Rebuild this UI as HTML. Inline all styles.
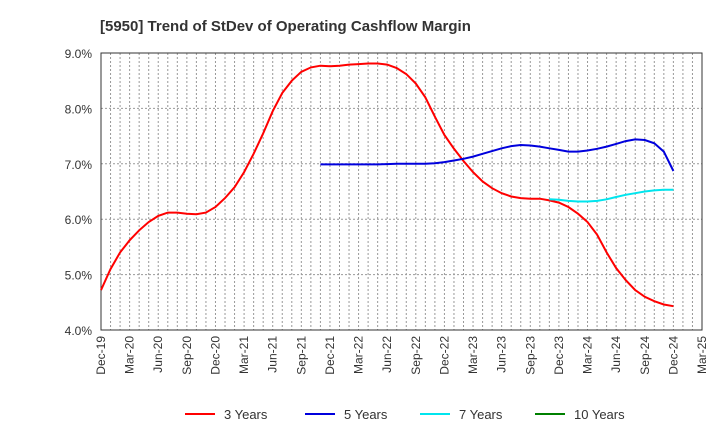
<!DOCTYPE html>
<html><head><meta charset="utf-8"><style>
body{margin:0;background:#fff;font-family:"Liberation Sans",sans-serif}
</style></head><body>
<svg id="c" width="720" height="440" xmlns="http://www.w3.org/2000/svg" font-family="Liberation Sans, sans-serif">
<text x="100" y="31" font-size="15" font-weight="bold" fill="#333">[5950]  Trend of StDev of Operating Cashflow Margin</text>
<g id="grid"></g><g id="axes"></g><g id="series"></g><g id="legend"></g>
</svg>
<script>
const xLabels=["Dec-19","Mar-20","Jun-20","Sep-20","Dec-20","Mar-21","Jun-21","Sep-21","Dec-21","Mar-22","Jun-22","Sep-22","Dec-22","Mar-23","Jun-23","Sep-23","Dec-23","Mar-24","Jun-24","Sep-24","Dec-24","Mar-25"];
const yTicks=[4,5,6,7,8,9];
const s3=[4.72,5.1,5.4,5.62,5.8,5.95,6.06,6.12,6.12,6.1,6.09,6.12,6.22,6.38,6.58,6.85,7.18,7.55,7.95,8.28,8.5,8.66,8.74,8.77,8.76,8.77,8.79,8.8,8.81,8.81,8.79,8.73,8.62,8.45,8.2,7.85,7.52,7.27,7.05,6.85,6.68,6.56,6.47,6.41,6.38,6.37,6.37,6.34,6.3,6.22,6.1,5.95,5.72,5.4,5.12,4.9,4.72,4.6,4.52,4.46,4.43];
const s5start=23;
const s5=[6.99,6.99,6.99,6.99,6.99,6.99,6.99,6.995,7.0,7.0,7.0,7.0,7.01,7.03,7.06,7.09,7.13,7.18,7.23,7.28,7.32,7.34,7.33,7.31,7.28,7.25,7.22,7.22,7.24,7.27,7.31,7.36,7.41,7.44,7.43,7.37,7.22,6.87];
const s7start=47;
const s7=[6.36,6.35,6.33,6.32,6.32,6.33,6.36,6.4,6.44,6.47,6.5,6.52,6.53,6.53];
const s10=[];
const L=101,R=702,T=53,B=330,NM=63;
const X=m=>L+m*(R-L)/NM, Y=v=>B-(v-4)*(B-T)/5;
const NS="http://www.w3.org/2000/svg";
function mk(p,t,a){const e=document.createElementNS(NS,t);for(const k in a)e.setAttribute(k,a[k]);document.getElementById(p).appendChild(e);return e;}
for(let m=1;m<NM;m++){const e=mk("grid","line",{x1:X(m),x2:X(m),y1:T,y2:B,stroke:"#999","stroke-dasharray":"2,2","stroke-width":1});

}
yTicks.forEach(v=>{const e=mk("grid","line",{x1:L,x2:R,y1:Y(v),y2:Y(v),stroke:"#999","stroke-dasharray":"2,2"});


const t=mk("axes","text",{x:92,y:Y(v)+5,"text-anchor":"end","font-size":12,fill:"#333"});t.textContent=v.toFixed(1)+"%";

});
const fr=mk("axes","rect",{x:L,y:T,width:R-L,height:B-T,fill:"none",stroke:"#333"});


xLabels.forEach((s,i)=>{const x=X(i*3);const t=mk("axes","text",{transform:`translate(${x+4},336) rotate(-90)`,"text-anchor":"end","font-size":12,fill:"#333"});t.textContent=s;

});
function line(arr,start,color,name){if(!arr.length)return;const d=arr.map((v,i)=>(i?"L":"M")+X(start+i).toFixed(1)+","+Y(v).toFixed(1)).join("");
const p=mk("series","path",{d:d,fill:"none",stroke:color,"stroke-width":2});

}
line(s3,0,"#ff0000","line-3-years");line(s5,s5start,"#0000dd","line-5-years");line(s7,s7start,"#00e5ee","line-7-years");line(s10,0,"#008000","line-10-years");
const leg=[["3 Years","#ff0000",185],["5 Years","#0000dd",305],["7 Years","#00e5ee",420],["10 Years","#008000",535]];
leg.forEach(([s,c,x])=>{const l=mk("legend","line",{x1:x,x2:x+30,y1:414,y2:414,stroke:c,"stroke-width":2});


const t=mk("legend","text",{x:x+39,y:419,"font-size":13,fill:"#333"});t.textContent=s;

});
</script>
</body></html>
